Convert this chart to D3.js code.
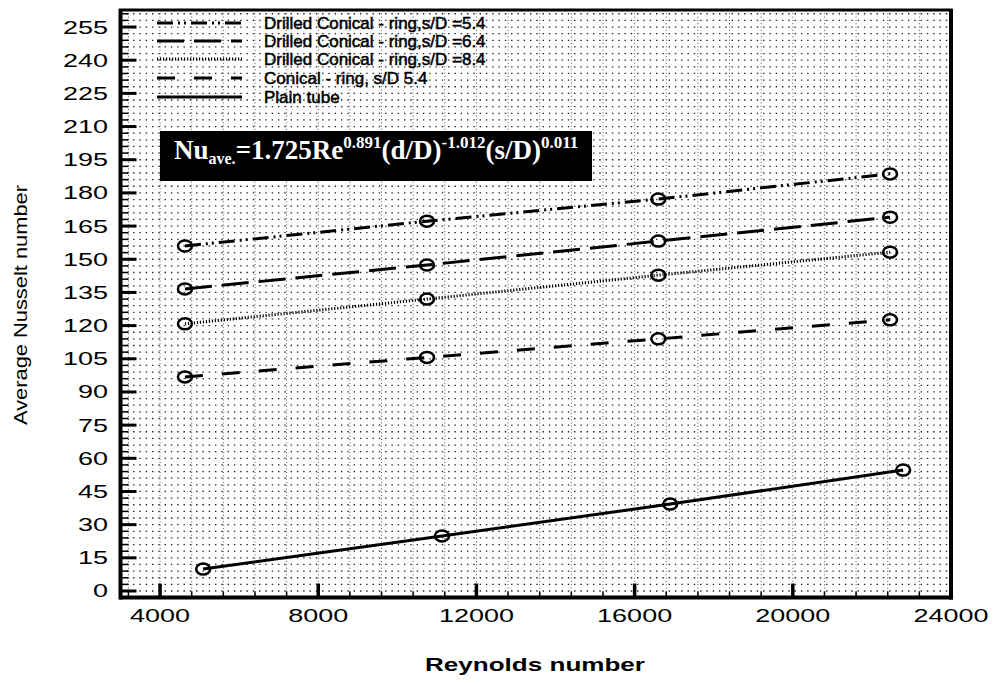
<!DOCTYPE html>
<html>
<head>
<meta charset="utf-8">
<script src="https://cdn.jsdelivr.net/npm/d3@7"></script>
<style>
  body { margin: 0; background: #fff; }
  svg { display: block; }
</style>
</head>
<body>
<svg id="chart" width="997" height="684"></svg>
<script>
// ---- data ----
const seriesNames = [
  "Drilled Conical - ring,s/D =5.4",
  "Drilled Conical - ring,s/D =6.4",
  "Drilled Conical - ring,s/D =8.4",
  "Conical - ring, s/D 5.4",
  "Plain tube"
];
const reDrilled = [4630, 10750, 16600, 22460];
const rePlain = [5090, 11130, 16900, 22790];
const nuDrilled54 = [156.0, 167.2, 177.2, 188.6];
const nuDrilled64 = [136.6, 147.4, 158.2, 169.0];
const nuDrilled84 = [120.8, 132.0, 142.8, 153.2];
const nuConical54 = [96.8, 105.6, 114.0, 122.6];
const nuPlain = [9.9, 24.9, 39.3, 54.7];
const xTickValues = [4000, 8000, 12000, 16000, 20000, 24000];
const yTickValues = [0, 15, 30, 45, 60, 75, 90, 105, 120, 135, 150, 165, 180, 195, 210, 225, 240, 255];

const series = [
  { name: seriesNames[0], x: reDrilled, y: nuDrilled54, dash: "16,5,2,4,2,5" },
  { name: seriesNames[1], x: reDrilled, y: nuDrilled64, dash: "27,10" },
  { name: seriesNames[2], x: reDrilled, y: nuDrilled84, dash: "1.2,1.8" },
  { name: seriesNames[3], x: reDrilled, y: nuConical54, dash: "18,19" },
  { name: seriesNames[4], x: rePlain, y: nuPlain, dash: null }
];

// ---- layout ----
const svg = d3.select("#chart");
const L = 120.5, R = 951, T = 10, B = 597.5;
const x = d3.scaleLinear().domain([3000, 24000]).range([L, R]);
const y = d3.scaleLinear().domain([-2.94, 262.7]).range([B, T]);

// grid
const grid = svg.append("g");
const hLines = d3.range(0, 262, 3);
grid.selectAll("line.h").data(hLines).enter().append("line")
  .attr("x1", L).attr("x2", R)
  .attr("y1", d => y(d)).attr("y2", d => y(d))
  .attr("stroke", "#222").attr("stroke-width", 1.3)
  .attr("stroke-dasharray", "1.4,4.9");
const vLines = d3.range(3200, 24000, 800);
grid.selectAll("line.v").data(vLines).enter().append("line")
  .attr("x1", d => x(d)).attr("x2", d => x(d))
  .attr("y1", T).attr("y2", B)
  .attr("stroke", "#555").attr("stroke-width", 1)
  .attr("stroke-dasharray", "1,2.3");

// minor/major ticks
const ticks = svg.append("g").attr("stroke", "#000");
ticks.selectAll("line.ym").data(d3.range(0, 262, 3).filter(v => v % 15 !== 0)).enter().append("line")
  .attr("x1", L).attr("x2", L + 8).attr("y1", d => y(d)).attr("y2", d => y(d)).attr("stroke-width", 1.5);
ticks.selectAll("line.yM").data(yTickValues).enter().append("line")
  .attr("x1", L).attr("x2", L + 16).attr("y1", d => y(d)).attr("y2", d => y(d)).attr("stroke-width", 3);
ticks.selectAll("line.xm").data(d3.range(3200, 24000, 800).filter(v => v % 4000 !== 0)).enter().append("line")
  .attr("x1", d => x(d)).attr("x2", d => x(d)).attr("y1", B).attr("y2", B - 6).attr("stroke-width", 1.5);
ticks.selectAll("line.xM").data(xTickValues).enter().append("line")
  .attr("x1", d => x(d)).attr("x2", d => x(d)).attr("y1", B).attr("y2", B - 14).attr("stroke-width", 3.5);

// frame
svg.append("rect").attr("x", L).attr("y", T).attr("width", R - L).attr("height", B - T)
  .attr("fill", "none").attr("stroke", "#000").attr("stroke-width", 3);
svg.append("line").attr("x1", L).attr("x2", L).attr("y1", T - 1).attr("y2", B + 2).attr("stroke", "#000").attr("stroke-width", 4);
svg.append("line").attr("x1", L - 1).attr("x2", R + 2).attr("y1", B).attr("y2", B).attr("stroke", "#000").attr("stroke-width", 4);
svg.append("line").attr("x1", R).attr("x2", R).attr("y1", T - 1).attr("y2", B + 2).attr("stroke", "#000").attr("stroke-width", 4);

// tick labels
const fontTick = "'Liberation Sans', Arial, sans-serif";
yTickValues.forEach(v => {
  svg.append("text")
    .attr("transform", `translate(108,${y(v) + 6.5}) scale(1.5,1)`)
    .attr("text-anchor", "end")
    .attr("font-family", fontTick).attr("font-size", 18)
    .text(v);
});
xTickValues.forEach(v => {
  svg.append("text")
    .attr("transform", `translate(${x(v)},${621.5}) scale(1.5,1)`)
    .attr("text-anchor", "middle")
    .attr("font-family", fontTick).attr("font-size", 18)
    .text(v);
});

// axis titles
svg.append("text")
  .attr("transform", "translate(27,305) rotate(-90)")
  .attr("text-anchor", "middle")
  .attr("font-family", fontTick).attr("font-size", 18)
  .attr("textLength", 240).attr("lengthAdjust", "spacingAndGlyphs")
  .text("Average Nusselt number");
svg.append("text")
  .attr("x", 535).attr("y", 671)
  .attr("text-anchor", "middle")
  .attr("font-family", fontTick).attr("font-size", 19).attr("font-weight", "bold")
  .attr("textLength", 220).attr("lengthAdjust", "spacingAndGlyphs")
  .text("Reynolds number");

// series lines & markers
const line = d3.line().x(d => x(d[0])).y(d => y(d[1]));
const plot = svg.append("g");
series.forEach(s => {
  const pts = s.x.map((v, i) => [v, s.y[i]]);
  plot.append("path").datum(pts).attr("d", line)
    .attr("fill", "none").attr("stroke", "#000").attr("stroke-width", 3)
    .attr("stroke-dasharray", s.dash);
  plot.selectAll(null).data(pts).enter().append("ellipse")
    .attr("cx", d => x(d[0])).attr("cy", d => y(d[1]))
    .attr("rx", 7).attr("ry", 5.5)
    .attr("fill", "none").attr("stroke", "#000").attr("stroke-width", 2.5);
});

// legend
const legendY = [23, 41, 59, 78, 97];
const lg = svg.append("g");
series.forEach((s, i) => {
  lg.append("line").attr("x1", 157).attr("x2", 242)
    .attr("y1", legendY[i]).attr("y2", legendY[i])
    .attr("stroke", "#000").attr("stroke-width", 3)
    .attr("stroke-dasharray", s.dash);
  lg.append("text").attr("x", 264).attr("y", legendY[i] + 6)
    .attr("font-family", fontTick).attr("font-size", 17)
    .attr("stroke", "#000").attr("stroke-width", 0.5)
    .text(s.name);
});

// equation box
svg.append("rect").attr("x", 160).attr("y", 131).attr("width", 432).attr("height", 50).attr("fill", "#000");
const eq = svg.append("text").attr("x", 174).attr("y", 159)
  .attr("font-family", "'Liberation Serif', 'Times New Roman', serif")
  .attr("font-weight", "bold").attr("font-size", 27).attr("fill", "#fff");
eq.append("tspan").text("Nu");
eq.append("tspan").attr("font-size", 16).attr("dy", 5).text("ave.");
eq.append("tspan").attr("dy", -5).text("=1.725Re");
eq.append("tspan").attr("font-size", 17).attr("dy", -11).text("0.891");
eq.append("tspan").attr("dy", 11).text("(d/D)");
eq.append("tspan").attr("font-size", 17).attr("dy", -11).text("-1.012");
eq.append("tspan").attr("dy", 11).text("(s/D)");
eq.append("tspan").attr("font-size", 17).attr("dy", -11).text("0.011");
</script>
</body>
</html>
